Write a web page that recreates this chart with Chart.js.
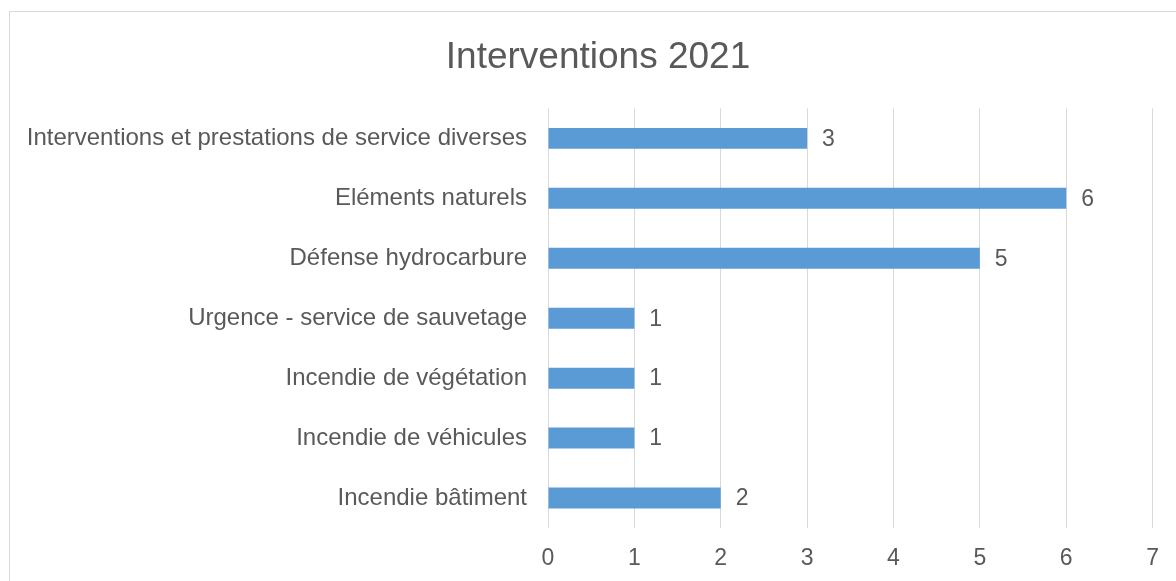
<!DOCTYPE html>
<html>
<head>
<meta charset="utf-8">
<script src="https://cdn.jsdelivr.net/npm/chart.js@4/dist/chart.umd.min.js"></script>
<style>
  html, body { margin: 0; padding: 0; background: #fff; overflow: hidden; }
  #wrap { position: relative; width: 1176px; height: 581px; overflow: hidden; }
  #frame { position: absolute; left: 9px; top: 11px; width: 1200px; height: 600px; border: 1px solid #d9d9d9; box-sizing: border-box; }
  canvas { position: absolute; left: 0; top: 0; }
</style>
</head>
<body>
<div id="wrap">
  <div id="frame"></div>
  <canvas id="chart" width="1176" height="581"></canvas>
</div>
<script>
// categories and values (top to bottom as shown)
const categories = [
  'Interventions et prestations de service diverses',
  'Eléments naturels',
  'Défense hydrocarbure',
  'Urgence - service de sauvetage',
  'Incendie de végétation',
  'Incendie de véhicules',
  'Incendie bâtiment'
];
const interventions = [3, 6, 5, 1, 1, 1, 2];
const xTicks = [0, 1, 2, 3, 4, 5, 6, 7];

const textColor = '#595959';
const fontFamily = '"Liberation Sans", Arial, sans-serif';

// draws the value just past the end of each bar
const valueLabels = {
  id: 'valueLabels',
  afterDatasetsDraw(chart) {
    const ctx = chart.ctx;
    const meta = chart.getDatasetMeta(0);
    ctx.save();
    ctx.fillStyle = textColor;
    ctx.font = '23px ' + fontFamily;
    ctx.textAlign = 'left';
    ctx.textBaseline = 'middle';
    meta.data.forEach((bar, i) => {
      ctx.fillText(String(interventions[i]), bar.x + 15, bar.y + 1);
    });
    ctx.restore();
  }
};

// centre the title over the whole frame, not just the padded box
const shiftTitle = {
  id: 'shiftTitle',
  afterLayout(chart) {
    if (chart.titleBlock) chart.titleBlock.left = 42;
  }
};

const config = {
  type: 'bar',
  data: {
    labels: categories,
    datasets: [{
      label: 'Interventions',
      data: interventions,
      backgroundColor: '#5b9bd5',
      borderWidth: 0,
      categoryPercentage: 1,
      barPercentage: 0.35
    }]
  },
  options: {
    indexAxis: 'y',
    responsive: false,
    animation: false,
    layout: { padding: { left: 0, right: 22, top: 0, bottom: 0 } },
    plugins: {
      legend: { display: false },
      tooltip: { enabled: false },
      title: {
        display: true,
        text: 'Interventions 2021',
        color: textColor,
        font: { family: fontFamily, size: 37, weight: 'normal', lineHeight: 1.2 },
        padding: { top: 36, bottom: 28 }
      }
    },
    scales: {
      x: {
        min: 0,
        max: 7,
        afterBuildTicks(scale) { scale.ticks = xTicks.map(v => ({ value: v })); },
        afterFit(scale) { scale.height = 53; },
        grid: { color: '#d9d9d9', lineWidth: 1, drawTicks: false },
        border: { display: false },
        ticks: {
          color: textColor,
          padding: 17,
          font: { family: fontFamily, size: 23 }
        }
      },
      y: {
        afterFit(scale) { scale.width = 548; },
        grid: { display: false },
        border: { display: false },
        ticks: {
          color: textColor,
          padding: 13,
          font: { family: fontFamily, size: 24 }
        }
      }
    }
  },
  plugins: [valueLabels, shiftTitle]
};

const interventionsChart = new Chart(document.getElementById('chart'), config);
</script>
</body>
</html>
